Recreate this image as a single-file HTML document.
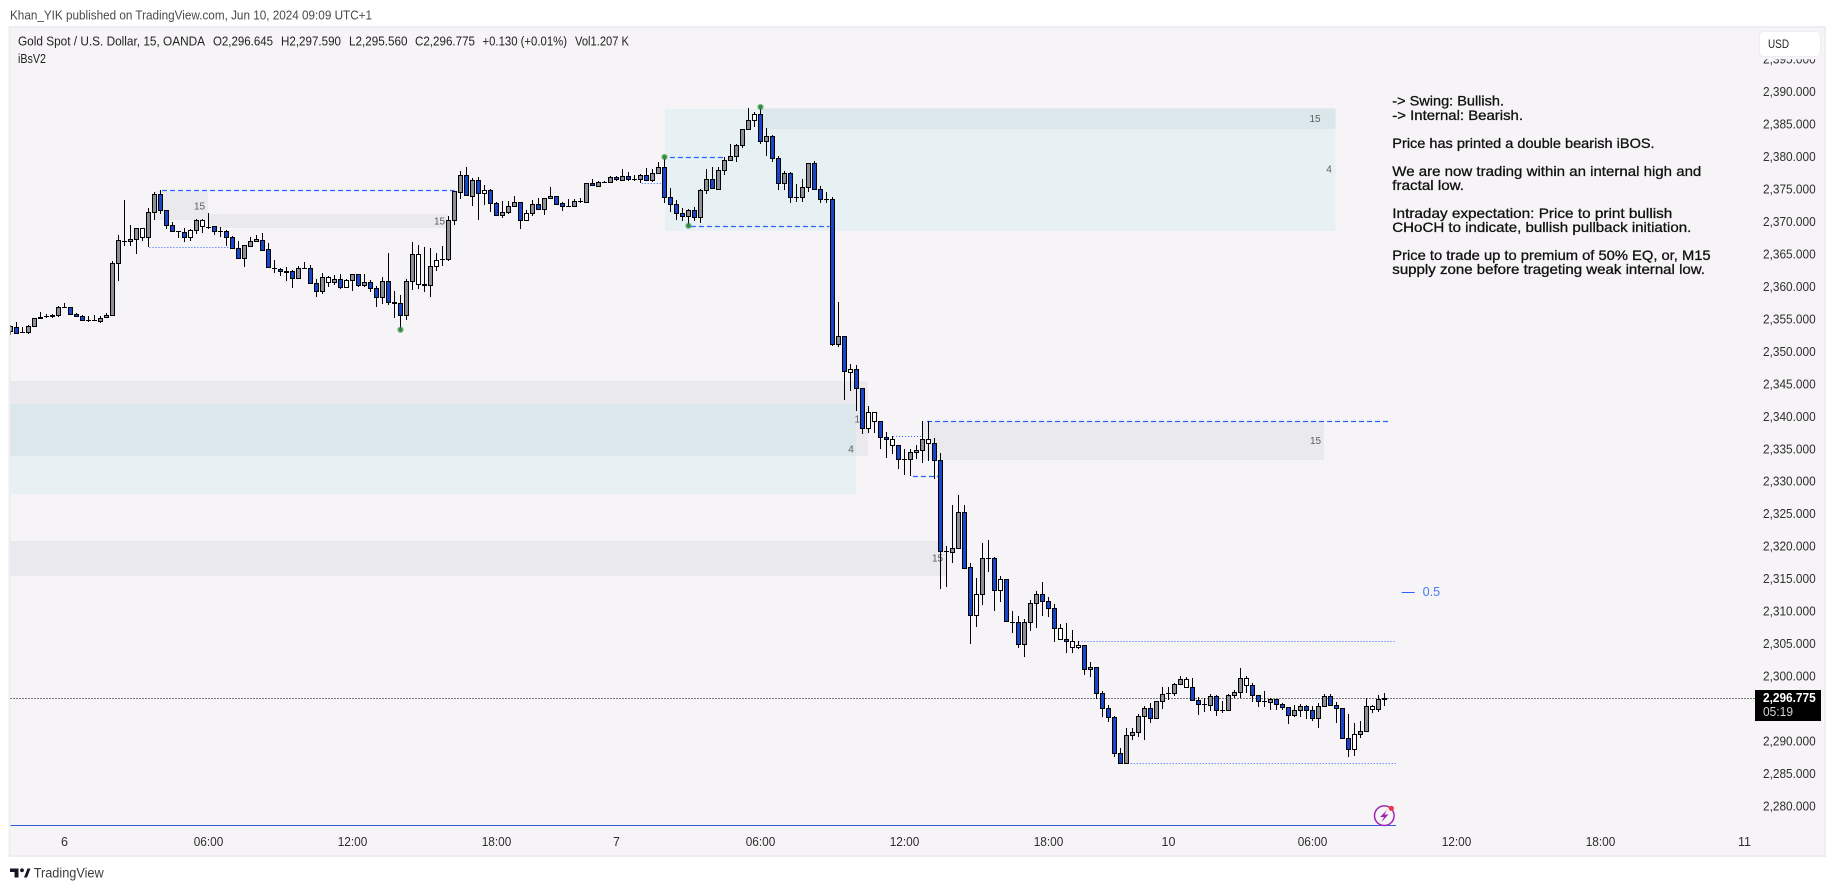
<!DOCTYPE html>
<html lang="en">
<head>
<meta charset="utf-8">
<title>Gold Spot / U.S. Dollar chart</title>
<style>
html,body{margin:0;padding:0;background:#fff;}
body{width:1835px;height:891px;overflow:hidden;}
svg{display:block;}
text{font-family:"Liberation Sans",Arial,sans-serif;}
</style>
</head>
<body>
<svg id="chart" xmlns="http://www.w3.org/2000/svg" width="1835" height="891" viewBox="0 0 1835 891">
  <defs>
    <clipPath id="plot-clip"><rect x="10.5" y="28" width="1744" height="827"/></clipPath>
  </defs>
  <text x="10" y="19.5" font-size="13" fill="#4a4a4a" textLength="362" lengthAdjust="spacingAndGlyphs">Khan_YIK published on TradingView.com, Jun 10, 2024 09:09 UTC+1</text>
  <rect x="9.5" y="27" width="1815.5" height="829" fill="#f6f4f6" stroke="#eeeef2" stroke-width="2"/>
  <g id="zones" clip-path="url(#plot-clip)"></g>
  <g id="levels" clip-path="url(#plot-clip)"></g>
  <g font-size="10" fill="#5c5c5c" text-anchor="middle">
    <text x="199.5" y="209.5">15</text>
    <text x="439.5" y="224.5">15</text>
    <text x="860" y="422.5">15</text>
    <text x="851" y="452.5">4</text>
    <text x="937.5" y="561.5">15</text>
    <text x="1315.5" y="444">15</text>
    <text x="1315" y="122">15</text>
    <text x="1329" y="172.5">4</text>
  </g>
  <g id="candles" clip-path="url(#plot-clip)"></g>
  <g id="markers"></g>
  <g font-size="12.5" fill="#222">
    <text x="18" y="45.5" textLength="187" lengthAdjust="spacingAndGlyphs">Gold Spot / U.S. Dollar, 15, OANDA</text>
    <text x="213" y="45.5" textLength="60" lengthAdjust="spacingAndGlyphs">O2,296.645</text>
    <text x="281" y="45.5" textLength="60" lengthAdjust="spacingAndGlyphs">H2,297.590</text>
    <text x="349" y="45.5" textLength="58.5" lengthAdjust="spacingAndGlyphs">L2,295.560</text>
    <text x="415" y="45.5" textLength="60" lengthAdjust="spacingAndGlyphs">C2,296.775</text>
    <text x="482.5" y="45.5" textLength="84.5" lengthAdjust="spacingAndGlyphs">+0.130 (+0.01%)</text>
    <text x="575" y="45.5" textLength="54" lengthAdjust="spacingAndGlyphs">Vol1.207 K</text>
    <text x="18" y="63" textLength="28" lengthAdjust="spacingAndGlyphs">iBsV2</text>
  </g>
  <g font-size="14" fill="#111" stroke="#111" stroke-width="0.3">
    <text x="1392.3" y="105.5" textLength="111.7" lengthAdjust="spacingAndGlyphs">-&gt; Swing: Bullish.</text>
    <text x="1392.3" y="120" textLength="130.7" lengthAdjust="spacingAndGlyphs">-&gt; Internal: Bearish.</text>
    <text x="1392.3" y="148" textLength="262.3" lengthAdjust="spacingAndGlyphs">Price has printed a double bearish iBOS.</text>
    <text x="1392.3" y="176" textLength="309" lengthAdjust="spacingAndGlyphs">We are now trading within an internal high and</text>
    <text x="1392.3" y="190" textLength="71.7" lengthAdjust="spacingAndGlyphs">fractal low.</text>
    <text x="1392.3" y="218" textLength="280" lengthAdjust="spacingAndGlyphs">Intraday expectation: Price to print bullish</text>
    <text x="1392.3" y="232" textLength="299" lengthAdjust="spacingAndGlyphs">CHoCH to indicate, bullish pullback initiation.</text>
    <text x="1392.3" y="260" textLength="318.3" lengthAdjust="spacingAndGlyphs">Price to trade up to premium of 50% EQ, or, M15</text>
    <text x="1392.3" y="274" textLength="312.7" lengthAdjust="spacingAndGlyphs">supply zone before trageting weak internal low.</text>
  </g>
  <g>
    <line x1="1401.7" x2="1414.7" y1="592.5" y2="592.5" stroke="#2962ff" stroke-width="1"/>
    <text x="1422.7" y="596" font-size="12.5" fill="#4a7cf6" textLength="17.5" lengthAdjust="spacingAndGlyphs">0.5</text>
  </g>
  <g>
    <circle cx="1384.3" cy="815.7" r="9.8" fill="none" stroke="#9c27b0" stroke-width="1.5"/>
    <path d="M1387 810 L1380 817 L1384 817 L1381.5 822 L1388.5 814.5 L1384.5 814.5 Z" fill="#9c27b0"/>
    <circle cx="1391.3" cy="808.3" r="2.6" fill="#f23645"/>
  </g>
  <g id="price-axis"></g>
  <g>
    <rect x="1756" y="56" width="67" height="3.3" fill="#f6f4f6"/>
    <rect x="1759.5" y="31.5" width="61" height="25" rx="4" fill="#fff" stroke="#eeeef2"/>
    <text x="1768" y="48" font-size="12" fill="#222" textLength="21" lengthAdjust="spacingAndGlyphs">USD</text>
  </g>
  <g>
    <rect x="1755" y="690" width="66" height="31" fill="#000"/>
    <text id="last-price-text" x="1763" y="702" font-size="12.5" font-weight="bold" fill="#fff" textLength="52.7" lengthAdjust="spacingAndGlyphs">2,296.775</text>
    <text x="1763" y="716" font-size="12.5" fill="#d4d4d4" textLength="30" lengthAdjust="spacingAndGlyphs">05:19</text>
  </g>
  <g id="time-axis"></g>
  <g>
    <path d="M10 868.5 H18.5 V877.5 H14.5 V872 H10 Z M24 877.5 L27.5 868.5 H30.5 L27 877.5 Z" fill="#131722"/>
    <circle cx="22" cy="870.3" r="1.9" fill="#131722"/>
    <text x="33.7" y="877.5" font-size="13.5" fill="#3c3c3c" textLength="70" lengthAdjust="spacingAndGlyphs">TradingView</text>
  </g>
</svg>
<script>
const opens = [2353.34,2353.95,2353.2,2353.18,2354.0,2355.44,2355.58,2355.6,2355.7,2356.93,
2356.93,2355.85,2355.54,2355.0,2354.98,2354.88,2355.39,2355.7,2363.71,2367.22,
2367.1,2367.4,2367.71,2367.71,2371.56,2374.33,2371.87,2369.56,2368.64,2368.48,
2367.81,2368.79,2369.41,2369.36,2369.41,2368.74,2368.64,2367.71,2366.01,2364.47,
2366.42,2367.09,2367.34,2365.85,2363.03,2362.88,2362.47,2362.47,2361.49,2362.93,
2362.93,2360.62,2359.39,2360.77,2360.77,2361.23,2360.0,2361.08,2362.0,2360.41,
2360.77,2359.85,2358.46,2360.93,2357.69,2357.54,2355.69,2360.93,2360.46,2360.46,
2360.41,2363.24,2364.31,2364.31,2370.32,2374.74,2377.26,2374.13,2376.49,2374.49,
2374.95,2372.95,2371.2,2371.56,2372.49,2373.1,2370.43,2371.41,2372.79,2372.13,
2373.72,2374.03,2372.95,2372.54,2372.59,2373.29,2373.2,2376.03,2375.67,2376.18,
2376.18,2376.95,2376.59,2377.1,2376.75,2376.75,2377.26,2376.59,2377.57,2378.49,
2373.87,2372.79,2371.41,2371.05,2371.87,2370.89,2374.95,2376.64,2375.21,2378.03,
2379.57,2380.19,2381.88,2384.34,2385.73,2386.65,2382.5,2383.27,2379.88,2376.03,
2377.57,2373.87,2373.87,2375.41,2379.11,2375.1,2373.56,2373.56,2351.24,2352.47,
2347.03,2347.39,2344.46,2338.3,2339.38,2339.38,2336.91,2335.68,2335.68,2333.52,
2333.52,2334.6,2334.91,2335.99,2335.99,2333.37,2319.46,2319.3,2319.82,2325.36,
2316.89,2309.5,2312.73,2318.28,2318.28,2313.35,2315.04,2308.53,2308.42,2305.03,
2308.42,2311.35,2312.73,2311.66,2310.58,2305.8,2305.8,2304.57,2304.57,2304.88,
2301.18,2301.49,2297.49,2295.18,2293.79,2288.25,2286.81,2291.02,2291.48,2293.95,
2295.18,2293.64,2296.26,2297.48,2297.49,2298.87,2298.41,2298.41,2296.41,2295.79,
2295.64,2297.03,2294.97,2294.87,2297.18,2297.64,2298.72,2298.72,2297.18,2296.26,
2296.1,2296.56,2295.79,2295.33,2294.1,2294.87,2295.49,2294.87,2293.64,2295.49,
2297.03,2295.64,2295.18,2290.56,2288.86,2291.17,2291.64,2295.02,2295.02,2296.645];

const highs = [2354.21,2354.62,2353.95,2354.21,2355.24,2356.21,2355.91,2355.91,2357.14,2357.6,
2357.0,2356.01,2355.8,2355.65,2355.8,2355.6,2356.01,2364.07,2368.07,2373.46,
2369.61,2369.2,2369.2,2372.28,2374.64,2375.0,2371.9,2370.12,2368.66,2369.1,
2368.94,2370.48,2370.48,2371.41,2369.41,2369.25,2368.79,2367.92,2367.14,2366.52,
2367.7,2368.01,2368.37,2366.78,2364.16,2362.93,2363.08,2362.67,2363.29,2363.9,
2363.39,2361.29,2362.16,2361.75,2361.9,2362.0,2361.23,2362.05,2362.05,2362.05,
2361.18,2360.16,2361.54,2365.29,2359.44,2358.77,2361.29,2366.98,2366.52,2366.26,
2366.01,2365.24,2366.37,2370.99,2374.9,2377.93,2378.49,2376.8,2376.95,2375.77,
2375.1,2373.2,2373.31,2373.36,2374.03,2373.1,2371.87,2373.46,2373.77,2373.82,
2375.46,2374.13,2373.2,2373.56,2373.67,2373.72,2376.13,2376.69,2376.39,2376.44,
2377.1,2377.16,2378.18,2377.77,2377.36,2377.41,2378.39,2378.23,2379.31,2380.03,
2375.26,2373.41,2372.18,2372.02,2372.38,2375.1,2378.23,2378.54,2378.54,2380.03,
2382.08,2382.08,2384.45,2387.63,2386.96,2387.78,2384.5,2383.47,2380.19,2377.93,
2377.72,2375.93,2376.69,2379.16,2379.47,2375.62,2374.64,2373.92,2357.75,2352.5,
2348.21,2348.05,2344.5,2341.69,2340.8,2339.4,2337.73,2337.07,2335.7,2335.11,
2335.11,2335.73,2339.38,2339.38,2336.76,2334.45,2320.18,2326.49,2328.03,2326.49,
2317.51,2315.25,2320.64,2321.1,2318.43,2315.51,2315.06,2310.17,2309.4,2308.88,
2311.81,2313.2,2314.63,2312.32,2311.19,2308.17,2308.27,2307.24,2305.5,2304.93,
2302.31,2301.5,2297.8,2295.69,2294.0,2289.07,2292.15,2292.15,2294.25,2295.54,
2295.95,2296.3,2298.41,2298.41,2299.03,2300.21,2300.05,2299.8,2296.97,2296.77,
2297.33,2297.18,2296.26,2297.33,2298.0,2301.34,2300.21,2299.03,2297.23,2297.85,
2296.72,2296.67,2295.95,2295.35,2295.69,2295.79,2295.64,2295.59,2295.95,2297.33,
2297.44,2296.2,2295.2,2294.3,2292.87,2293.23,2296.77,2295.74,2297.18,2297.59];

const lows = [2352.67,2353.03,2353.13,2352.88,2354.0,2355.24,2355.24,2355.34,2355.49,2356.9,
2355.8,2355.49,2354.88,2354.67,2354.93,2354.57,2355.29,2355.7,2361.04,2366.43,
2366.43,2365.2,2367.2,2366.17,2370.38,2371.36,2368.99,2368.6,2367.61,2366.99,
2367.2,2368.22,2368.33,2368.99,2368.07,2367.81,2366.33,2366.02,2364.42,2363.18,
2366.16,2367.03,2365.65,2363.03,2362.26,2361.8,2361.03,2359.95,2361.39,2362.9,
2360.57,2358.56,2359.03,2360.05,2360.36,2359.69,2359.95,2359.49,2360.1,2360.1,
2359.28,2357.02,2357.44,2357.33,2355.33,2353.53,2354.97,2359.64,2359.69,2359.33,
2358.56,2362.57,2363.29,2364.11,2369.65,2373.62,2374.18,2372.59,2370.38,2372.69,
2371.66,2371.05,2370.74,2371.36,2372.33,2368.99,2370.43,2371.05,2372.08,2371.2,
2373.67,2372.85,2371.82,2372.49,2372.43,2372.95,2373.1,2375.62,2375.62,2376.13,
2376.08,2376.44,2376.54,2376.44,2376.34,2376.08,2376.34,2376.23,2377.52,2373.05,
2371.66,2370.38,2370.23,2369.51,2370.23,2369.97,2374.39,2375.21,2375.21,2377.31,
2379.52,2379.36,2381.52,2384.29,2384.75,2382.08,2380.29,2379.36,2375.0,2375.0,
2373.05,2373.1,2373.2,2374.74,2375.05,2373.05,2372.95,2351.03,2350.88,2342.66,
2344.1,2341.02,2337.48,2337.63,2337.63,2335.11,2333.78,2334.35,2332.04,2331.11,
2330.96,2333.57,2333.01,2333.32,2330.44,2313.56,2313.86,2317.61,2319.8,2316.69,
2305.09,2307.75,2311.09,2316.17,2310.22,2311.5,2308.53,2306.83,2304.52,2303.14,
2307.14,2307.6,2309.4,2309.24,2305.39,2305.8,2303.75,2303.75,2304.32,2300.36,
2300.06,2296.67,2293.9,2293.13,2287.74,2286.71,2286.71,2290.3,2290.82,2290.3,
2292.87,2293.48,2295.07,2296.46,2297.13,2298.82,2298.26,2296.26,2294.15,2294.61,
2294.77,2294.05,2294.41,2294.82,2296.72,2296.72,2297.59,2296.2,2295.43,2295.38,
2294.92,2294.92,2294.97,2292.76,2293.89,2293.89,2293.48,2293.23,2292.2,2295.33,
2295.49,2292.97,2290.5,2287.73,2287.89,2290.66,2291.64,2294.51,2294.56,2295.56];

const closes = [2354.06,2353.03,2353.18,2354.0,2355.24,2355.24,2355.6,2355.7,2356.93,2356.93,
2355.85,2355.54,2355.03,2354.98,2354.96,2355.34,2355.7,2363.71,2367.25,2367.2,
2367.4,2369.1,2369.1,2371.56,2374.33,2371.87,2369.56,2368.64,2368.62,2367.81,
2368.79,2370.33,2370.33,2369.34,2368.74,2368.72,2367.71,2366.01,2364.47,2366.47,
2367.09,2367.39,2365.75,2363.08,2363.01,2362.47,2362.45,2361.49,2362.93,2362.93,
2360.62,2359.39,2361.54,2361.54,2361.23,2360.0,2361.08,2362.0,2360.41,2360.77,
2359.85,2358.46,2360.93,2357.69,2357.67,2355.69,2360.93,2365.08,2365.08,2360.44,
2363.24,2364.16,2364.33,2370.32,2374.78,2377.31,2374.18,2376.49,2374.49,2374.95,
2372.95,2371.2,2371.56,2372.49,2373.1,2370.43,2371.41,2372.79,2372.13,2373.72,
2374.03,2372.9,2372.49,2372.52,2373.26,2373.31,2376.03,2375.72,2376.18,2376.2,
2376.95,2376.64,2377.1,2376.75,2376.77,2377.26,2376.54,2377.57,2378.49,2373.87,
2372.79,2371.41,2371.05,2371.87,2370.89,2374.95,2376.64,2375.26,2378.03,2379.57,
2380.19,2381.88,2384.34,2385.73,2386.65,2382.5,2383.27,2379.88,2376.03,2377.57,
2373.87,2373.85,2375.41,2379.11,2375.1,2373.56,2373.54,2351.24,2352.47,2347.08,
2347.39,2344.46,2338.3,2340.76,2340.76,2336.91,2336.6,2336.6,2333.52,2333.5,
2334.6,2334.91,2336.6,2336.6,2333.37,2319.46,2319.44,2319.82,2325.36,2316.84,
2309.5,2312.73,2318.28,2318.26,2313.35,2315.04,2308.58,2308.51,2305.03,2308.42,
2311.35,2312.73,2311.66,2310.58,2307.5,2307.5,2305.5,2305.5,2304.88,2301.18,
2301.49,2297.49,2295.18,2293.79,2288.25,2286.81,2291.02,2291.48,2293.95,2295.18,
2293.64,2296.26,2297.33,2297.5,2298.87,2299.64,2299.64,2296.41,2295.79,2295.77,
2297.03,2294.97,2294.95,2297.18,2297.64,2299.8,2299.8,2297.18,2296.26,2296.24,
2296.56,2295.79,2295.33,2294.1,2294.87,2295.49,2294.87,2293.64,2295.49,2297.03,
2295.64,2295.18,2290.56,2288.86,2291.17,2291.64,2295.49,2295.49,2296.56,2296.775];

const hollowBars = [22,30,32,53,56,68,71,79,86,124,140,143,144,147,153,161,165,175,177,178,196,206,224,227];

const swingBars = [65,109,113,125];
const swingPrices = [2353.49,2380.08,2369.5,2387.78];

const zoneKinds = ['grey','grey','grey','grey','grey','grey','teal','teal'];
const zoneStarts = [-0.2,-0.2,152,125,24.08,32.9,-0.2,109.08];
const zoneEnds = [142.9,155.87,218.9,220.85,32.9,72.9,140.9,220.85];
const zoneTops = [2345.59,2320.95,2339.38,2387.63,2374.85,2371.3,2342.04,2387.47];
const zoneBottoms = [2334.04,2315.6,2333.42,2384.39,2370.38,2369.15,2328.18,2368.69];

const levelKinds = ['dash','dot','dash','dash','dot','dash','dot','dash','dot','dot','solid'];
const levelPrices = [2374.9,2366.18,2380.03,2369.41,2376.03,2339.38,2337.07,2330.91,2305.5,2286.71,2277.12];
const levelStarts = [25.25,23.15,109.9,113.4,105.2,152.75,147.1,150.4,178,185.2,-0.2];
const levelEnds = [74,36.4,119,136.5,108.5,230.1,152,154.6,230.9,230.9,230.9];

const priceTicks = [2280,2285,2290,2295,2300,2305,2310,2315,2320,2325,2330,2335,2340,2345,2350,2355,2360,2365,2370,2375,2380,2385,2390,2395];
const timeLabels = ['6','06:00','12:00','18:00','7','06:00','12:00','18:00','10','06:00','12:00','18:00','11'];
const timeLabelBars = [9,33,57,81,101,125,149,173,193,217,241,265,289];

const NS = 'http://www.w3.org/2000/svg';
const xOf = function (bar) { return 10.5 + 6 * bar; };
const yOf = function (price) { return 806.9 - (price - 2280) * 6.4935; };
const crisp = function (v) { return Math.floor(v) + 0.5; };
const make = function (tag, parent) {
  const el = document.createElementNS(NS, tag);
  parent.appendChild(el);
  return el;
};
const fmtPrice = function (p) {
  return p.toLocaleString('en-US', { minimumFractionDigits: 3, maximumFractionDigits: 3 });
};

const zonesLayer = document.getElementById('zones');
zoneKinds.forEach(function (kind, i) {
  const r = make('rect', zonesLayer);
  
  
  const x1 = xOf(zoneStarts[i]), x2 = xOf(zoneEnds[i]);
  const y1 = Math.round(yOf(zoneTops[i])), y2 = Math.round(yOf(zoneBottoms[i]));
  r.setAttribute('x', x1);
  r.setAttribute('width', x2 - x1);
  r.setAttribute('y', y1);
  r.setAttribute('height', y2 - y1);
  r.setAttribute('fill', kind === 'teal' ? 'rgba(0,188,190,0.06)' : 'rgba(90,110,140,0.07)');
});

const levelsLayer = document.getElementById('levels');
levelKinds.forEach(function (kind, i) {
  const l = make('line', levelsLayer);
  
  
  const y = crisp(yOf(levelPrices[i]));
  l.setAttribute('x1', xOf(levelStarts[i]));
  l.setAttribute('x2', xOf(levelEnds[i]));
  l.setAttribute('y1', y);
  l.setAttribute('y2', y);
  l.setAttribute('stroke', kind === 'solid' ? '#2f5fd8' : '#2962ff');
  l.setAttribute('stroke-width', kind === 'dash' ? '1.25' : '1');
  if (kind === 'dash') l.setAttribute('stroke-dasharray', '5 3');
  if (kind === 'dot') l.setAttribute('stroke-dasharray', '1 2');
});

const lastClose = closes[closes.length - 1];
const lastLine = make('line', levelsLayer);


lastLine.setAttribute('x1', 10.5);
lastLine.setAttribute('x2', 1755);
lastLine.setAttribute('y1', crisp(yOf(lastClose) + 0.3));
lastLine.setAttribute('y2', crisp(yOf(lastClose) + 0.3));
lastLine.setAttribute('stroke', '#000');
lastLine.setAttribute('stroke-width', '1');
lastLine.setAttribute('stroke-dasharray', '1 2');
document.getElementById('last-price-text').textContent = fmtPrice(lastClose);

const candlesLayer = document.getElementById('candles');
opens.forEach(function (o, i) {
  const c = closes[i];
  const x = xOf(i);
  const wick = make('line', candlesLayer);
  
  
  wick.setAttribute('x1', x);
  wick.setAttribute('x2', x);
  wick.setAttribute('y1', Math.round(yOf(highs[i])));
  wick.setAttribute('y2', Math.round(yOf(lows[i])));
  wick.setAttribute('stroke', '#000');
  wick.setAttribute('stroke-width', '1');
  const top = Math.round(yOf(Math.max(o, c)));
  const bottom = Math.round(yOf(Math.min(o, c)));
  const body = make('rect', candlesLayer);
  
  
  body.setAttribute('x', x - 2);
  body.setAttribute('width', 4);
  body.setAttribute('y', top + 0.5);
  body.setAttribute('height', Math.max(bottom - top, 0.01));
  body.setAttribute('stroke', '#000');
  body.setAttribute('stroke-width', '1');
  let fill = '#8d8f96';
  if (c < o) fill = '#1746c8';
  if (hollowBars.indexOf(i) >= 0) fill = '#ffffff';
  body.setAttribute('fill', fill);
});

const markersLayer = document.getElementById('markers');
swingBars.forEach(function (bar, i) {
  const halo = make('circle', markersLayer);
  
  
  halo.setAttribute('cx', xOf(bar));
  halo.setAttribute('cy', yOf(swingPrices[i]));
  halo.setAttribute('r', 3.2);
  halo.setAttribute('fill', 'rgba(46,139,61,0.55)');
  const dot = make('circle', markersLayer);
  
  
  dot.setAttribute('cx', xOf(bar));
  dot.setAttribute('cy', yOf(swingPrices[i]));
  dot.setAttribute('r', 2);
  dot.setAttribute('fill', '#2e8b3d');
});

const priceAxis = document.getElementById('price-axis');
priceTicks.forEach(function (p) {
  const t = make('text', priceAxis);
  
  
  t.setAttribute('x', 1763);
  t.setAttribute('y', yOf(p) + 3.5);
  t.setAttribute('font-size', '12.5');
  t.setAttribute('fill', '#2e2e2e');
  t.setAttribute('textLength', '52.7');
  t.setAttribute('lengthAdjust', 'spacingAndGlyphs');
  t.textContent = fmtPrice(p);
});

const timeAxis = document.getElementById('time-axis');
timeLabels.forEach(function (label, i) {
  const t = make('text', timeAxis);
  
  
  t.setAttribute('x', xOf(timeLabelBars[i]));
  t.setAttribute('y', 846);
  t.setAttribute('font-size', '12.5');
  t.setAttribute('fill', '#2e2e2e');
  t.setAttribute('text-anchor', 'middle');
  if (label.length > 2) {
    t.setAttribute('textLength', '29.6');
    t.setAttribute('lengthAdjust', 'spacingAndGlyphs');
  }
  t.textContent = label;
});
</script>
</body>
</html>
